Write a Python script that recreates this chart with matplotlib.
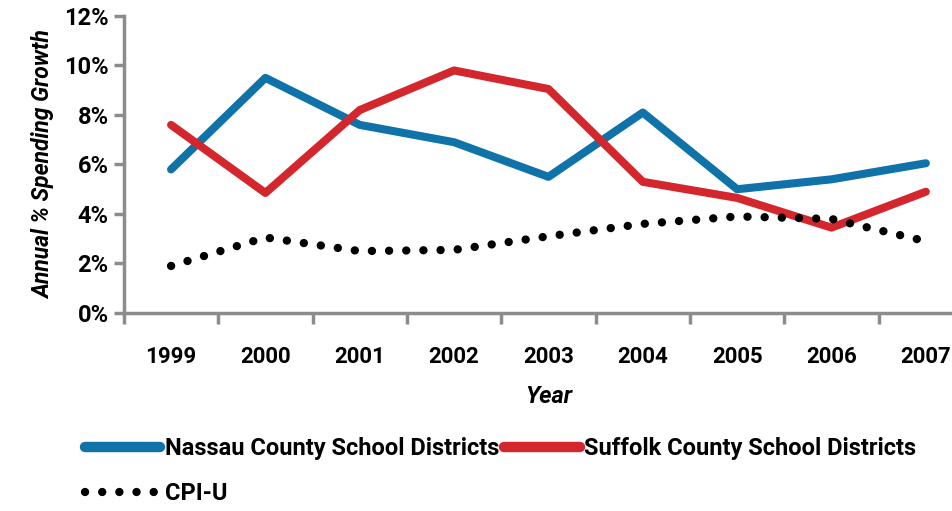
import matplotlib.pyplot as plt
import numpy as np

years = ['1999', '2000', '2001', '2002', '2003', '2004', '2005', '2006', '2007']
nassau = [5.8, 9.5, 7.6, 6.9, 5.5, 8.1, 5.0, 5.4, 6.05]
suffolk = [7.6, 4.85, 8.2, 9.8, 9.05, 5.3, 4.65, 3.45, 4.9]
cpi_u = [1.9, 3.05, 2.5, 2.55, 3.1, 3.6, 3.9, 3.8, 2.9]

plt.rcParams['font.family'] = ['Roboto', 'DejaVu Sans']
plt.rcParams['font.weight'] = 'bold'

fig = plt.figure(figsize=(9.53, 5.11), dpi=100)
ax = fig.add_axes([0.130, 0.3875, 0.891, 0.5812])

x = np.arange(len(years))
l1, = ax.plot(x, nassau, color='#0f72a8', lw=5.8, solid_capstyle='round', solid_joinstyle='round',
              label='Nassau County School Districts')
l2, = ax.plot(x, suffolk, color='#d3262d', lw=5.8, solid_capstyle='round', solid_joinstyle='round',
              label='Suffolk County School Districts')
l3, = ax.plot(x, cpi_u, color='black', lw=6, linestyle=(0, (0.01, 2.05)), dash_capstyle='round',
              label='CPI-U')

ax.set_xlim(-0.5, 8.5)
ax.set_ylim(0, 12)
ax.set_yticks(np.arange(0, 13, 2))
ax.set_yticklabels([f'{v}%' for v in range(0, 13, 2)], fontsize=17, fontweight='bold')

# category boundaries get tick marks, labels sit between them
ax.set_xticks(np.arange(-0.5, 9.0, 1.0))
ax.set_xticklabels([])
ax.set_xticks(x, minor=True)
ax.set_xticklabels(years, minor=True, fontsize=16, fontweight='bold')
ax.tick_params(axis='x', which='minor', length=0, pad=24)
ax.tick_params(axis='x', which='major', length=8, width=2.5, color='#8c8c8c', direction='out')
ax.tick_params(axis='y', length=7, width=2.5, color='#8c8c8c', direction='out', pad=4)

for side in ['top', 'right']:
    ax.spines[side].set_visible(False)
for side in ['left', 'bottom']:
    ax.spines[side].set_color('#8c8c8c')
    ax.spines[side].set_linewidth(2.5)

ax.set_ylabel('Annual % Spending Growth', fontsize=16.5, fontweight='bold', style='italic', labelpad=6)
ax.set_xlabel('Year', fontsize=17, fontweight='bold', style='italic', labelpad=12)

leg = fig.legend(handles=[l1, l3, l2], ncol=2, loc='upper left', bbox_to_anchor=(0.089, 0.145),
                 frameon=False, fontsize=17, handlelength=3.2, handletextpad=0.2, borderpad=0,
                 columnspacing=0.2, labelspacing=0.95, borderaxespad=0)
for h in leg.get_lines():
    if h.get_linestyle() == '-':
        h.set_linewidth(7.5)

fig.savefig('out.png', dpi=100)
